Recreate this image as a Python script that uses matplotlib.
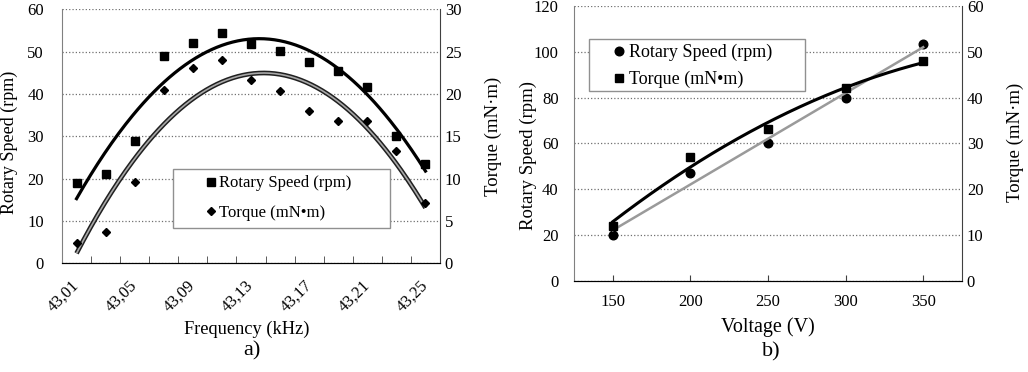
import numpy as np
import matplotlib.pyplot as plt
from matplotlib.patches import Rectangle

plt.rcParams['font.family'] = ['Liberation Serif', 'DejaVu Serif']

# panel a) - frequency sweep
freq = [43.01, 43.03, 43.05, 43.07, 43.09, 43.11, 43.13,
        43.15, 43.17, 43.19, 43.21, 43.23, 43.25]
speed_a = [19.0, 21.0, 29.0, 49.0, 52.0, 54.5, 51.7,
           50.2, 47.6, 45.5, 41.6, 30.0, 23.5]
torque_a = [2.35, 3.65, 9.6, 20.45, 23.05, 24.05, 21.65,
            20.4, 18.0, 16.85, 16.85, 13.3, 7.15]
freq_labels = ['43,01', '43,05', '43,09', '43,13', '43,17', '43,21', '43,25']

# panel b) - voltage sweep
volt = [150, 200, 250, 300, 350]
speed_b = [20.1, 47.0, 60.0, 79.9, 103.3]
torque_b = [12.1, 27.1, 33.05, 42.0, 47.95]

W, H = 1028, 372
fig = plt.figure(figsize=(W / 100, H / 100), dpi=100)


def px(x0, y0, x1, y1):
    """pixel box -> figure fraction"""
    return [x0 / W, 1 - y1 / H, (x1 - x0) / W, (y1 - y0) / H]


def style(ax, ax2):
    for a in (ax, ax2):
        a.spines['top'].set_visible(False)
    ax.spines['left'].set_color('#808080')
    ax.spines['right'].set_visible(False)
    ax2.spines['left'].set_visible(False)
    ax2.spines['right'].set_color('#404040')
    ax.spines['bottom'].set_color('#202020')
    ax.yaxis.grid(True, linestyle=':', color='#707070', lw=0.9)
    ax.set_axisbelow(True)
    ax.tick_params(axis='y', length=0, labelsize=12, pad=13)
    ax2.tick_params(axis='y', length=0, labelsize=12, pad=3.5)


# ---------------- a) ----------------
ax = fig.add_axes(px(62, 9.3, 440, 263.3))
ax2 = ax.twinx()
style(ax, ax2)

x = np.array(freq)
xs = np.linspace(x[0], x[-1], 200)
ax.plot(xs, np.polyval(np.polyfit(x, speed_a, 2), xs), color='black', lw=2.3, zorder=3)
ct = np.polyfit(x, torque_a, 2)
ax2.plot(xs, np.polyval(ct, xs), color='#202020', lw=3.4, solid_capstyle='butt', zorder=2)
ax2.plot(xs, np.polyval(ct, xs), color='#a8a8a8', lw=1.2, solid_capstyle='butt', zorder=2)
h1, = ax.plot(x, speed_a, 's', color='black', ms=5.4, zorder=4, label='Rotary Speed (rpm)')
h2, = ax2.plot(x, torque_a, 'D', color='black', ms=3.7, zorder=4, label='Torque (mN•m)')

ax.set_xlim(43.00, 43.26)
ax.set_ylim(0, 60)
ax2.set_ylim(0, 30)
ax.set_yticks(range(0, 61, 10))
ax2.set_yticks(range(0, 31, 5))
ax.set_xticks(freq[::2])
ax.set_xticklabels(freq_labels, rotation=45, ha='right', va='center',
                   rotation_mode='anchor', fontsize=12)
ax.set_xticks(np.arange(43.02, 43.245, 0.02), minor=True)
ax.tick_params(axis='x', which='major', length=0, pad=14)
ax.tick_params(axis='x', which='minor', direction='in', length=5, color='#404040')

ax2.add_patch(Rectangle((0.2937, 0.139), 0.574, 0.2323, transform=ax2.transAxes,
                        facecolor='white', edgecolor='#909090', lw=1.0, zorder=5))
leg = ax2.legend(handles=[h1, h2], loc='center left', bbox_to_anchor=(0.354, 0.257),
                 frameon=False, fontsize=12, borderpad=0, handlelength=0.8,
                 handletextpad=0.1, labelspacing=0.8, numpoints=1)
leg.set_zorder(6)

fig.text(9 / W, 1 - 142 / H, 'Rotary Speed (rpm)', rotation=90, ha='center', va='center', fontsize=13)
fig.text(493 / W, 1 - 136 / H, 'Torque (mN·m)', rotation=90, ha='center', va='center', fontsize=13.5)
fig.text(247 / W, 1 - 329 / H, 'Frequency (kHz)', ha='center', va='center', fontsize=13.2)
fig.text(252 / W, 1 - 351 / H, 'a)', ha='center', va='center', fontsize=16)

# ---------------- b) ----------------
bx = fig.add_axes(px(574, 5.7, 962, 281.2))
bx2 = bx.twinx()
style(bx, bx2)
bx.tick_params(axis='y', pad=11)

v = np.array(volt)
vs = np.linspace(v[0], v[-1], 200)
bx.plot(vs, np.polyval(np.polyfit(v, speed_b, 1), vs), color='#9a9a9a', lw=1.8, zorder=3)
bx2.plot(vs, np.polyval(np.polyfit(v, torque_b, 2), vs), color='black', lw=2.2, zorder=2)
g1, = bx.plot(v, speed_b, 'o', color='black', ms=6.2, zorder=2, label='Rotary Speed (rpm)')
g2, = bx2.plot(v, torque_b, 's', color='black', ms=5.8, zorder=1, label='Torque (mN•m)')

bx.set_xlim(125, 375)
bx.set_ylim(0, 120)
bx2.set_ylim(0, 60)
bx.set_yticks(range(0, 121, 20))
bx2.set_yticks(range(0, 61, 10))
bx.set_xticks(volt)
bx.tick_params(axis='x', direction='in', length=4, color='#404040', labelsize=12, pad=9)

bx2.add_patch(Rectangle((0.0387, 0.690), 0.5567, 0.1887, transform=bx2.transAxes,
                        facecolor='white', edgecolor='#909090', lw=1.0, zorder=5))
leg = bx2.legend(handles=[g1, g2], loc='center left', bbox_to_anchor=(0.0765, 0.781),
                 frameon=False, fontsize=13, borderpad=0, handlelength=0.7,
                 handletextpad=0.2, labelspacing=0.55, numpoints=1)
leg.set_zorder(6)

fig.text(528 / W, 1 - 155 / H, 'Rotary Speed (rpm)', rotation=90, ha='center', va='center', fontsize=13.5)
fig.text(1015 / W, 1 - 142 / H, 'Torque (mN·m)', rotation=90, ha='center', va='center', fontsize=13.5)
fig.text(768 / W, 1 - 327 / H, 'Voltage (V)', ha='center', va='center', fontsize=14.5)
fig.text(771 / W, 1 - 352 / H, 'b)', ha='center', va='center', fontsize=16)

fig.savefig('out.png', dpi=100)
